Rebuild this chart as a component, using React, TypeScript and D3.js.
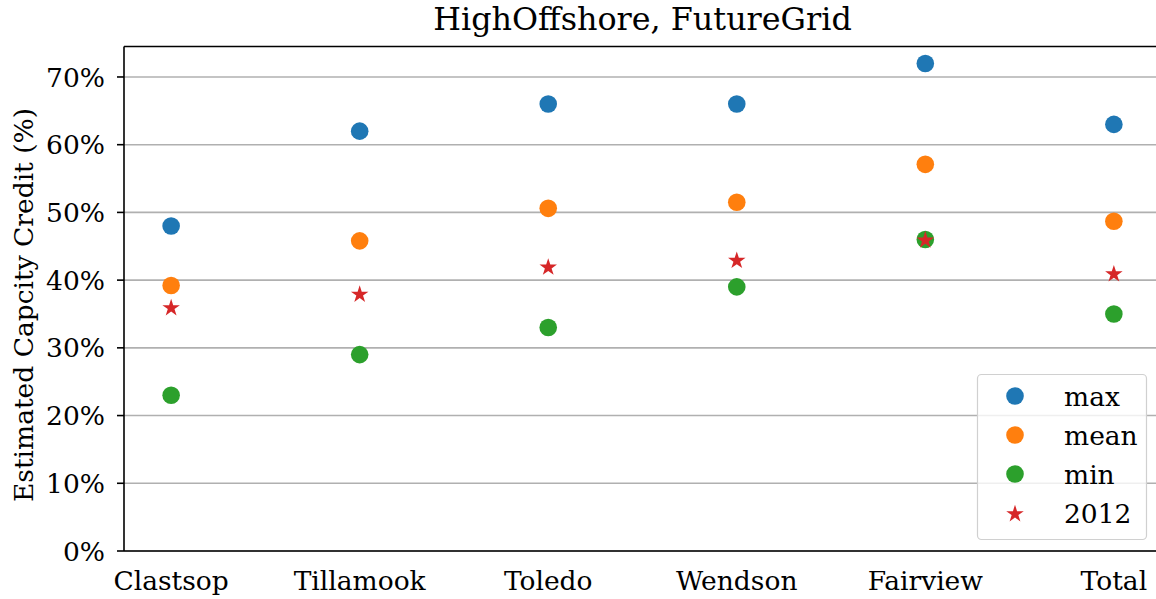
import React from "react";
import * as d3 from "d3";

const categories = ["Clastsop", "Tillamook", "Toledo", "Wendson", "Fairview", "Total"];
const maxValues = [48, 62, 66, 66, 72, 63];
const meanValues = [39.2, 45.8, 50.6, 51.5, 57.1, 48.7];
const minValues = [23, 29, 33, 39, 46, 35];
const values2012 = [36, 38, 42, 43, 46, 41];
const yTicks = [0, 10, 20, 30, 40, 50, 60, 70];

const W = 1156, H = 599;
const margin = { left: 124, top: 46.5, bottom: 551 };
const FONT = "'DejaVu Serif', serif";
const FS = 26.5;

const series = [
  { name: "max", values: maxValues, color: "#1f77b4", shape: "circle" },
  { name: "mean", values: meanValues, color: "#ff7f0e", shape: "circle" },
  { name: "min", values: minValues, color: "#2ca02c", shape: "circle" },
  { name: "2012", values: values2012, color: "#d62728", shape: "star" },
];

export default function App() {
  const x = d3.scaleLinear().domain([-0.25, 5.25]).range([margin.left, 1161]);
  const y = d3.scaleLinear().domain([0, 74.5]).range([margin.bottom, margin.top]);
  const star = d3.symbol().type(d3.symbolStar).size(95)();

  return (
    <svg width={W} height={H} style={{ position: "absolute", left: 0, top: 0, background: "#fff" }}>
      {/* grid */}
      {yTicks.map((t) => (
        <line key={"g" + t} x1={margin.left} x2={W} y1={y(t)} y2={y(t)} stroke="#b0b0b0" strokeWidth={1.6} />
      ))}
      {/* y ticks */}
      {yTicks.map((t) => (
        <g key={"t" + t}>
          <line x1={margin.left - 7} x2={margin.left} y1={y(t)} y2={y(t)} stroke="#000" strokeWidth={1.6} />
          <text x={105} y={y(t)} dy="0.36em" textAnchor="end" fontFamily={FONT} fontSize={FS} fill="#000">
            {t}%
          </text>
        </g>
      ))}
      {/* x labels */}
      {categories.map((c, i) => (
        <text key={c} x={x(i)} y={590} textAnchor="middle" fontFamily={FONT} fontSize={FS} fill="#000">
          {c}
        </text>
      ))}
      {/* spines */}
      <line x1={margin.left} x2={margin.left} y1={margin.top} y2={margin.bottom} stroke="#000" strokeWidth={1.6} />
      <line x1={margin.left} x2={W} y1={margin.bottom} y2={margin.bottom} stroke="#000" strokeWidth={1.6} />
      <line x1={margin.left} x2={W} y1={margin.top} y2={margin.top} stroke="#000" strokeWidth={1.6} />
      {/* points */}
      {series.map((s) =>
        s.values.map((v, i) =>
          s.shape === "circle" ? (
            <circle key={s.name + i} cx={x(i)} cy={y(v)} r={8.8} fill={s.color} />
          ) : (
            <path key={s.name + i} d={star!} transform={`translate(${x(i)},${y(v) + 0.8})`} fill={s.color} />
          )
        )
      )}
      {/* title */}
      <text x={(margin.left + 1161) / 2} y={30} textAnchor="middle" fontFamily={FONT} fontSize={31.8} fill="#000">
        HighOffshore, FutureGrid
      </text>
      {/* y label */}
      <text
        transform={`translate(33,${305}) rotate(-90)`}
        textAnchor="middle"
        fontFamily={FONT}
        fontSize={FS}
        fill="#000"
      >
        Estimated Capcity Credit (%)
      </text>
      {/* legend */}
      <g>
        <rect x={977.5} y={374.5} width={169} height={165} rx={4} fill="#fff" fillOpacity={0.8} stroke="#d0d0d0" strokeWidth={1.2} />
        {series.map((s, i) => {
          const ly = 396 + i * 39;
          return (
            <g key={"l" + s.name}>
              {s.shape === "circle" ? (
                <circle cx={1015} cy={ly} r={8.8} fill={s.color} />
              ) : (
                <path d={star!} transform={`translate(1015,${ly + 1})`} fill={s.color} />
              )}
              <text x={1064} y={ly} dy="0.36em" fontFamily={FONT} fontSize={FS} fill="#000">
                {s.name}
              </text>
            </g>
          );
        })}
      </g>
    </svg>
  );
}
